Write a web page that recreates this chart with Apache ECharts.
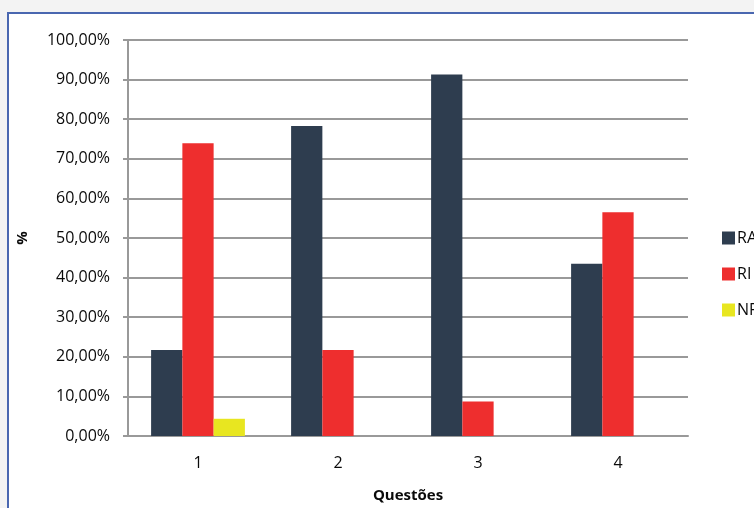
<!DOCTYPE html>
<html>
<head>
<meta charset="utf-8">
<script src="https://cdn.jsdelivr.net/npm/echarts@6/dist/echarts.min.js"></script>
<style>
  html, body { margin: 0; padding: 0; background: #f3f3f3; overflow: hidden; }
  #frame {
    position: absolute; left: 7px; top: 12px; width: 760px; height: 510px;
    background: #ffffff; border-left: 2px solid #4a67b0; border-top: 2px solid #4a67b0;
  }
  #chart { position: absolute; left: 0; top: 0; width: 754px; height: 508px; }
</style>
</head>
<body>
<div id="frame"></div>
<div id="chart"></div>
<script>
// Share of answers per question (%)
const categories = ['1', '2', '3', '4'];
const seriesNames = ['RA', 'RI', 'NR'];
const valuesRA = [21.74, 78.26, 91.30, 43.48];
const valuesRI = [73.91, 21.74, 8.70, 56.52];
const valuesNR = [4.35, 0, 0, 0];
const yTicks = [0, 10, 20, 30, 40, 50, 60, 70, 80, 90, 100];
const colors = ['#2e3d4f', '#ee2e2e', '#e8e620'];

const font = 'Open Sans';
const ink = '#0a0a0a';
const chart = echarts.init(document.getElementById('chart'));
chart.setOption({
  backgroundColor: 'transparent',
  animation: false,
  textStyle: { fontFamily: font },
  grid: { left: 128, right: 66, top: 40, bottom: 72 },
  legend: {
    orient: 'vertical', left: 717, top: 225,
    itemWidth: 13, itemHeight: 13, itemGap: 20,
    icon: 'rect',
    textStyle: { fontFamily: font, fontSize: 16, color: ink, padding: [0, 0, 0, -3] },
    data: seriesNames
  },
  xAxis: {
    type: 'category', data: categories,
    name: 'Questões', nameLocation: 'middle', nameGap: 52,
    nameTextStyle: { fontFamily: font, fontSize: 15, fontWeight: 'bold', color: ink },
    axisLine: { lineStyle: { color: '#999999', width: 2 } },
    axisTick: { show: false },
    axisLabel: { fontFamily: font, fontSize: 16, color: ink, margin: 19 }
  },
  yAxis: {
    type: 'value', min: yTicks[0], max: yTicks[yTicks.length - 1], interval: 10,
    name: '%', nameLocation: 'middle', nameGap: 98, nameRotate: 90,
    nameTextStyle: { fontFamily: font, fontSize: 15, fontWeight: 'bold', color: ink },
    axisLine: { show: true, lineStyle: { color: '#999999', width: 2 } },
    axisTick: { show: true, length: 5, lineStyle: { color: '#999999', width: 2 } },
    splitLine: { lineStyle: { color: '#999999', width: 2 } },
    axisLabel: {
      fontFamily: font, fontSize: 16, color: ink, margin: 18,
      formatter: v => v.toFixed(2).replace('.', ',') + '%'
    }
  },
  series: [
    { name: seriesNames[0], type: 'bar', data: valuesRA, itemStyle: { color: colors[0] }, barGap: '0%', barCategoryGap: '33%' },
    { name: seriesNames[1], type: 'bar', data: valuesRI, itemStyle: { color: colors[1] }, barGap: '0%', barCategoryGap: '33%' },
    { name: seriesNames[2], type: 'bar', data: valuesNR, itemStyle: { color: colors[2] }, barGap: '0%', barCategoryGap: '33%' }
  ]
});
</script>
</body>
</html>
